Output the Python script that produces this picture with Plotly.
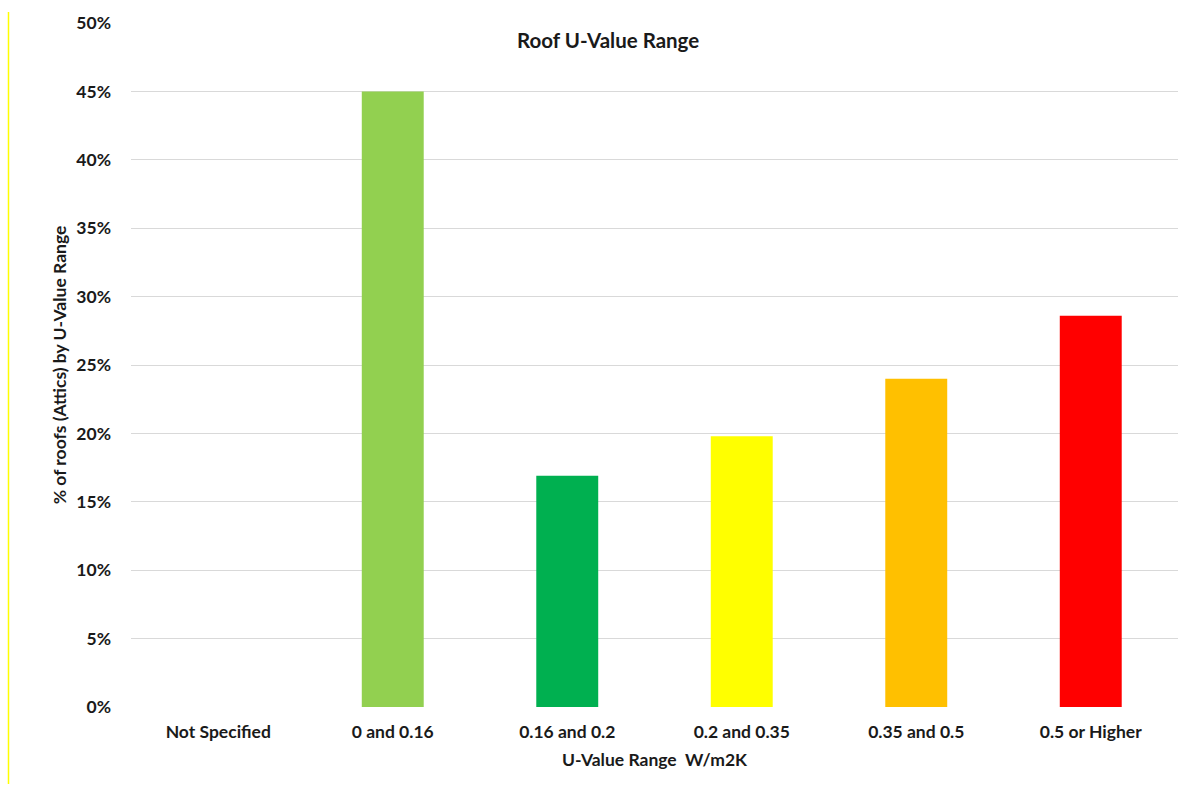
import plotly.graph_objects as go

categories = ["Not Specified", "0 and 0.16", "0.16 and 0.2", "0.2 and 0.35", "0.35 and 0.5", "0.5 or Higher"]
shares = [0.0, 0.45, 0.169, 0.198, 0.24, 0.286]
bar_colors = ["#FFFFFF", "#92D050", "#00B050", "#FFFF00", "#FFC000", "#FF0000"]
y_ticks = [i * 0.05 for i in range(11)]
y_tick_labels = [f"{i * 5}%" for i in range(11)]

W, H = 1189, 787
L, R, T, B = 131, 11, 23, 80
FONT = "Lato"
TXT = "#1a1a1a"

fig = go.Figure(
    go.Bar(
        x=categories,
        y=shares,
        marker=dict(color=bar_colors, line=dict(width=0)),
        width=0.355,
        hoverinfo="x+y",
    )
)

fig.update_layout(
    width=W,
    height=H,
    margin=dict(l=L, r=R, t=T, b=B),
    paper_bgcolor="white",
    plot_bgcolor="white",
    showlegend=False,
    font=dict(family=FONT, size=17, color=TXT),
    xaxis=dict(
        showgrid=False,
        showline=False,
        zeroline=False,
        ticks="",
        ticklabelstandoff=12,
        tickfont=dict(family=FONT, size=17.5, color=TXT, weight="bold"),
        title=dict(
            text="<b>U-Value Range&nbsp;&nbsp;W/m2K</b>",
            font=dict(family=FONT, size=17.5, color=TXT),
            standoff=13,
        ),
    ),
    yaxis=dict(
        range=[0, 0.5],
        tickvals=y_ticks,
        ticktext=y_tick_labels,
        showgrid=True,
        gridcolor="#d9d9d9",
        gridwidth=1,
        zeroline=False,
        showline=False,
        ticks="",
        ticklen=0,
        ticklabelstandoff=19,
        tickfont=dict(family=FONT, size=17.5, color=TXT, weight="bold"),
        title=dict(
            text="<b>% of roofs (Attics) by U-Value Range</b>",
            font=dict(family=FONT, size=17.5, color=TXT),
            standoff=5,
        ),
    ),
    annotations=[
        dict(
            text="<b>Roof U-Value Range</b>",
            x=(608 - L) / (W - L - R),
            y=1 - (40 - T) / (H - T - B),
            xref="paper",
            yref="paper",
            xanchor="center",
            yanchor="middle",
            showarrow=False,
            font=dict(family=FONT, size=20.5, color=TXT),
        )
    ],
    shapes=[
        dict(
            type="line",
            xref="paper",
            yref="paper",
            x0=(8.5 - L) / (W - L - R),
            x1=(8.5 - L) / (W - L - R),
            y0=1 - (12 - T) / (H - T - B),
            y1=1 - (784 - T) / (H - T - B),
            line=dict(color="#FFFF00", width=1.5),
        )
    ],
)

fig.write_html("out.html")
